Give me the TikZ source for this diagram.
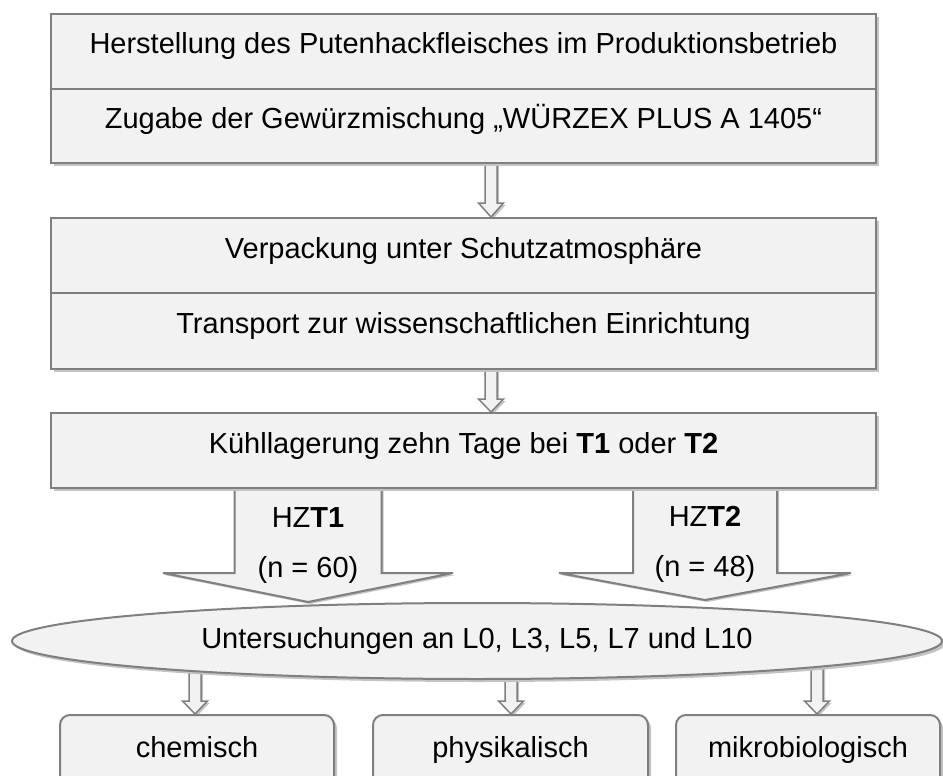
\documentclass[tikz,border=0pt]{standalone}
\usepackage{fontspec}
\setmainfont{Liberation Sans}
\usetikzlibrary{shapes.geometric,shadows,calc}

\definecolor{boxfill}{HTML}{F2F2F2}
\definecolor{boxline}{HTML}{7F7F7F}
\definecolor{shadegray}{HTML}{C4C4C4}
\pgfdeclarelayer{background}
\pgfsetlayers{background,main}

\tikzset{
  base/.style={draw=boxline, fill=boxfill, line width=2pt,
    drop shadow={shadow xshift=3pt, shadow yshift=-3pt, fill=shadegray, opacity=1},
    font=\fontsize{29}{34}\selectfont},
  stepbox/.style={base, minimum width=825pt, minimum height=#1, inner sep=0pt,
    text height=22pt, text depth=17pt},
  stepbox/.default=75pt,
  resbox/.style={base, rounded corners=10pt, minimum width=#1, minimum height=80pt,
    inner sep=0pt, text height=22pt, text depth=17pt},
  arrowtext/.style={font=\fontsize{29}{34}\selectfont, inner sep=0pt},
  arrowline/.style={draw=boxline, fill=boxfill, line width=1.5pt, line join=miter,
    drop shadow={shadow xshift=2pt, shadow yshift=-2pt, fill=shadegray, opacity=1}}
}

% start, tip, shaft half width, wing half width, head length
\newcommand{\hollowarrow}[6][]{%
  \draw[arrowline,#1] let \p1=#2, \p2=#3 in
    (\x1-#4,\y1) -- (\x1-#4,\y2+#6) -- (\x1-#5,\y2+#6) -- (\x2,\y2)
    -- (\x1+#5,\y2+#6) -- (\x1+#4,\y2+#6) -- (\x1+#4,\y1);}

\begin{document}
\begin{tikzpicture}[x=1pt,y=-1pt]
  \useasboundingbox (0,0) rectangle (943,776);

  \node[stepbox] (b1) at (463.5,51.5) {Herstellung des Putenhackfleisches im Produktionsbetrieb};
  \node[stepbox=74pt] (b2) at (463.5,126) {Zugabe der Gewürzmischung „WÜRZEX PLUS A 1405“};
  \node[stepbox] (b3) at (463.5,255.5) {Verpackung unter Schutzatmosphäre};
  \node[stepbox=76pt] (b4) at (463.5,331) {Transport zur wissenschaftlichen Einrichtung};
  \node[stepbox] (b5) at (463.5,450.5) {Kühllagerung zehn Tage bei \textbf{T1} oder \textbf{T2}};

  \node[base, ellipse, minimum width=930pt, minimum height=76pt, inner sep=0pt]
    (ell) at (477,641) {Untersuchungen an L0, L3, L5, L7 und L10};

  \node[resbox=274pt] (chem) at (197,755) {chemisch};
  \node[resbox=275pt] (phys) at (510.5,755) {physikalisch};
  \node[resbox=264pt] (mikro) at (808,755) {mikrobiologisch};

  \node[arrowtext] (hz1) at (308,518) {HZ\textbf{T1}};
  \node[arrowtext] (n1) at (308,570) {(n = 60)};
  \node[arrowtext] (hz2) at (705,516) {HZ\textbf{T2}};
  \node[arrowtext] (n2) at (705,569) {(n = 48)};

  \coordinate (c1) at (491,0);
  \coordinate (h1) at (308,0);
  \coordinate (h2) at (705,0);
  \coordinate (e1) at (195,0);
  \coordinate (e2) at (511,0);
  \coordinate (e3) at (817,0);

  \begin{pgfonlayer}{background}
    \hollowarrow{(b2.center -| c1)}{(b3.north -| c1)}{6pt}{12.5pt}{14pt}
    \hollowarrow{(b4.center -| c1)}{(b5.north -| c1)}{6pt}{12.5pt}{13pt}
    \hollowarrow[line width=2pt]{(b5.center -| h1)}{(ell.north -| h1)}{73.5pt}{145pt}{29pt}
    \hollowarrow[line width=2pt]{(b5.center -| h2)}{([yshift=2pt]ell.north -| h2)}{72pt}{146pt}{27pt}
    \foreach \col/\dest in {e1/chem, e2/phys, e3/mikro}{
      \hollowarrow{(ell.center -| \col)}{(\dest.north -| \col)}{6pt}{12.5pt}{13pt}
    }
  \end{pgfonlayer}
\end{tikzpicture}
\end{document}
